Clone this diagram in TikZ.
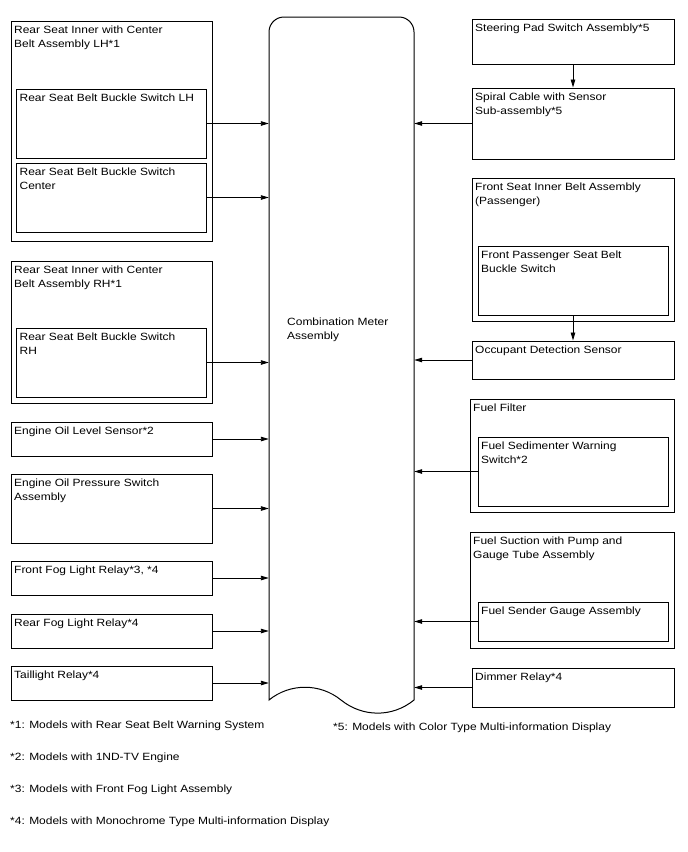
\documentclass[tikz,border=0pt]{standalone}
\usepackage{fontspec}
\setmainfont[FakeStretch=1.14]{Liberation Sans}
\usetikzlibrary{fit,arrows.meta}
\newcommand{\fs}{\fontsize{10.5}{14}\selectfont}
\tikzset{
  boxst/.style={draw, line width=1pt, inner sep=0pt},
  txt/.style={anchor=north west, inner sep=0pt, align=left, font=\fs},
  arr/.style={line width=0.9pt, -{Triangle[length=8pt,width=4.5pt]}}
}
\newcommand{\bx}[6]{%
  \coordinate (#1-a) at (#2,#3);
  \coordinate (#1-b) at (#4,#5);
  \node[boxst, fit=(#1-a)(#1-b)] (#1) {};
  \node[txt] (#1-t) at ([xshift=3.5pt,yshift=-5pt]#1.north west) {#6};
}
\begin{document}
\begin{tikzpicture}[x=1pt,y=-1pt]
\useasboundingbox (0,0) rectangle (688,852);
% center shape
\coordinate (cm-a) at (269,17);
\coordinate (cm-b) at (414,700);
\node[inner sep=0pt, fit=(cm-a)(cm-b)] (cm) {};
\draw[line width=1pt] (269,700) -- (269,32) arc[start angle=180,end angle=270,radius=15]
  -- (399,17) arc[start angle=270,end angle=360,radius=15] -- (414,700)
  .. controls (392,718) and (362,717) .. (341,700)
  .. controls (320,683) and (290,683) .. (269,700) -- cycle;
\node[txt] (cmt) at (287,318) {Combination Meter\\Assembly};

% left column
\bx{lho}{11}{21.5}{212}{241}{Rear Seat Inner with Center\\Belt Assembly LH*1}
\bx{lh}{16.5}{89}{206}{158}{Rear Seat Belt Buckle Switch LH}
\bx{ctr}{16.5}{163}{206}{232}{Rear Seat Belt Buckle Switch\\Center}
\bx{rho}{11}{261}{212}{403}{Rear Seat Inner with Center\\Belt Assembly RH*1}
\bx{rh}{16.5}{328}{206}{397}{Rear Seat Belt Buckle Switch\\RH}
\bx{eol}{11}{422}{212}{456}{Engine Oil Level Sensor*2}
\bx{eop}{11}{474}{212}{543}{Engine Oil Pressure Switch\\Assembly}
\bx{ffl}{11}{561}{212}{595}{Front Fog Light Relay*3, *4}
\bx{rfl}{11}{614}{212}{648}{Rear Fog Light Relay*4}
\bx{tl}{11}{666}{212}{700}{Taillight Relay*4}

% right column
\bx{sp}{472}{19}{674}{64}{Steering Pad Switch Assembly*5}
\bx{sc}{472}{88}{674}{159}{Spiral Cable with Sensor\\Sub-assembly*5}
\bx{fso}{472}{178}{674}{321}{Front Seat Inner Belt Assembly\\(Passenger)}
\bx{fpi}{478}{246}{668}{315}{Front Passenger Seat Belt\\Buckle Switch}
\bx{ods}{472}{341}{674}{379}{Occupant Detection Sensor}
\bx{ffo}{470}{399}{674}{512}{Fuel Filter}
\bx{fsw}{478}{437}{668}{506}{Fuel Sedimenter Warning\\Switch*2}
\bx{fsu}{470}{532}{674}{648}{Fuel Suction with Pump and\\Gauge Tube Assembly}
\bx{fsg}{478}{602}{668}{641}{Fuel Sender Gauge Assembly}
\bx{dim}{472}{668}{674}{707}{Dimmer Relay*4}

% left arrows
\foreach \n in {lh,ctr,rh,eol,eop,ffl,rfl,tl}{
  \draw[arr] (\n.east) -- (\n.east -| cm.west);
}
% right arrows
\foreach \n in {sc,ods,fsw,fsg,dim}{
  \draw[arr] (\n.west) -- (\n.west -| cm.east);
}
% vertical arrows
\draw[arr] (sp.south) -- (sc.north);
\draw[arr] (fpi.south) -- (ods.north);

% footnotes
\node[txt] (n1) at (10,721) {*1: Models with Rear Seat Belt Warning System};
\node[txt] (n2) at (10,752.5) {*2: Models with 1ND-TV Engine};
\node[txt] (n3) at (10,785) {*3: Models with Front Fog Light Assembly};
\node[txt] (n4) at (10,817) {*4: Models with Monochrome Type Multi-information Display};
\node[txt] (n5) at (333,722.5) {*5: Models with Color Type Multi-information Display};
\end{tikzpicture}
\end{document}
